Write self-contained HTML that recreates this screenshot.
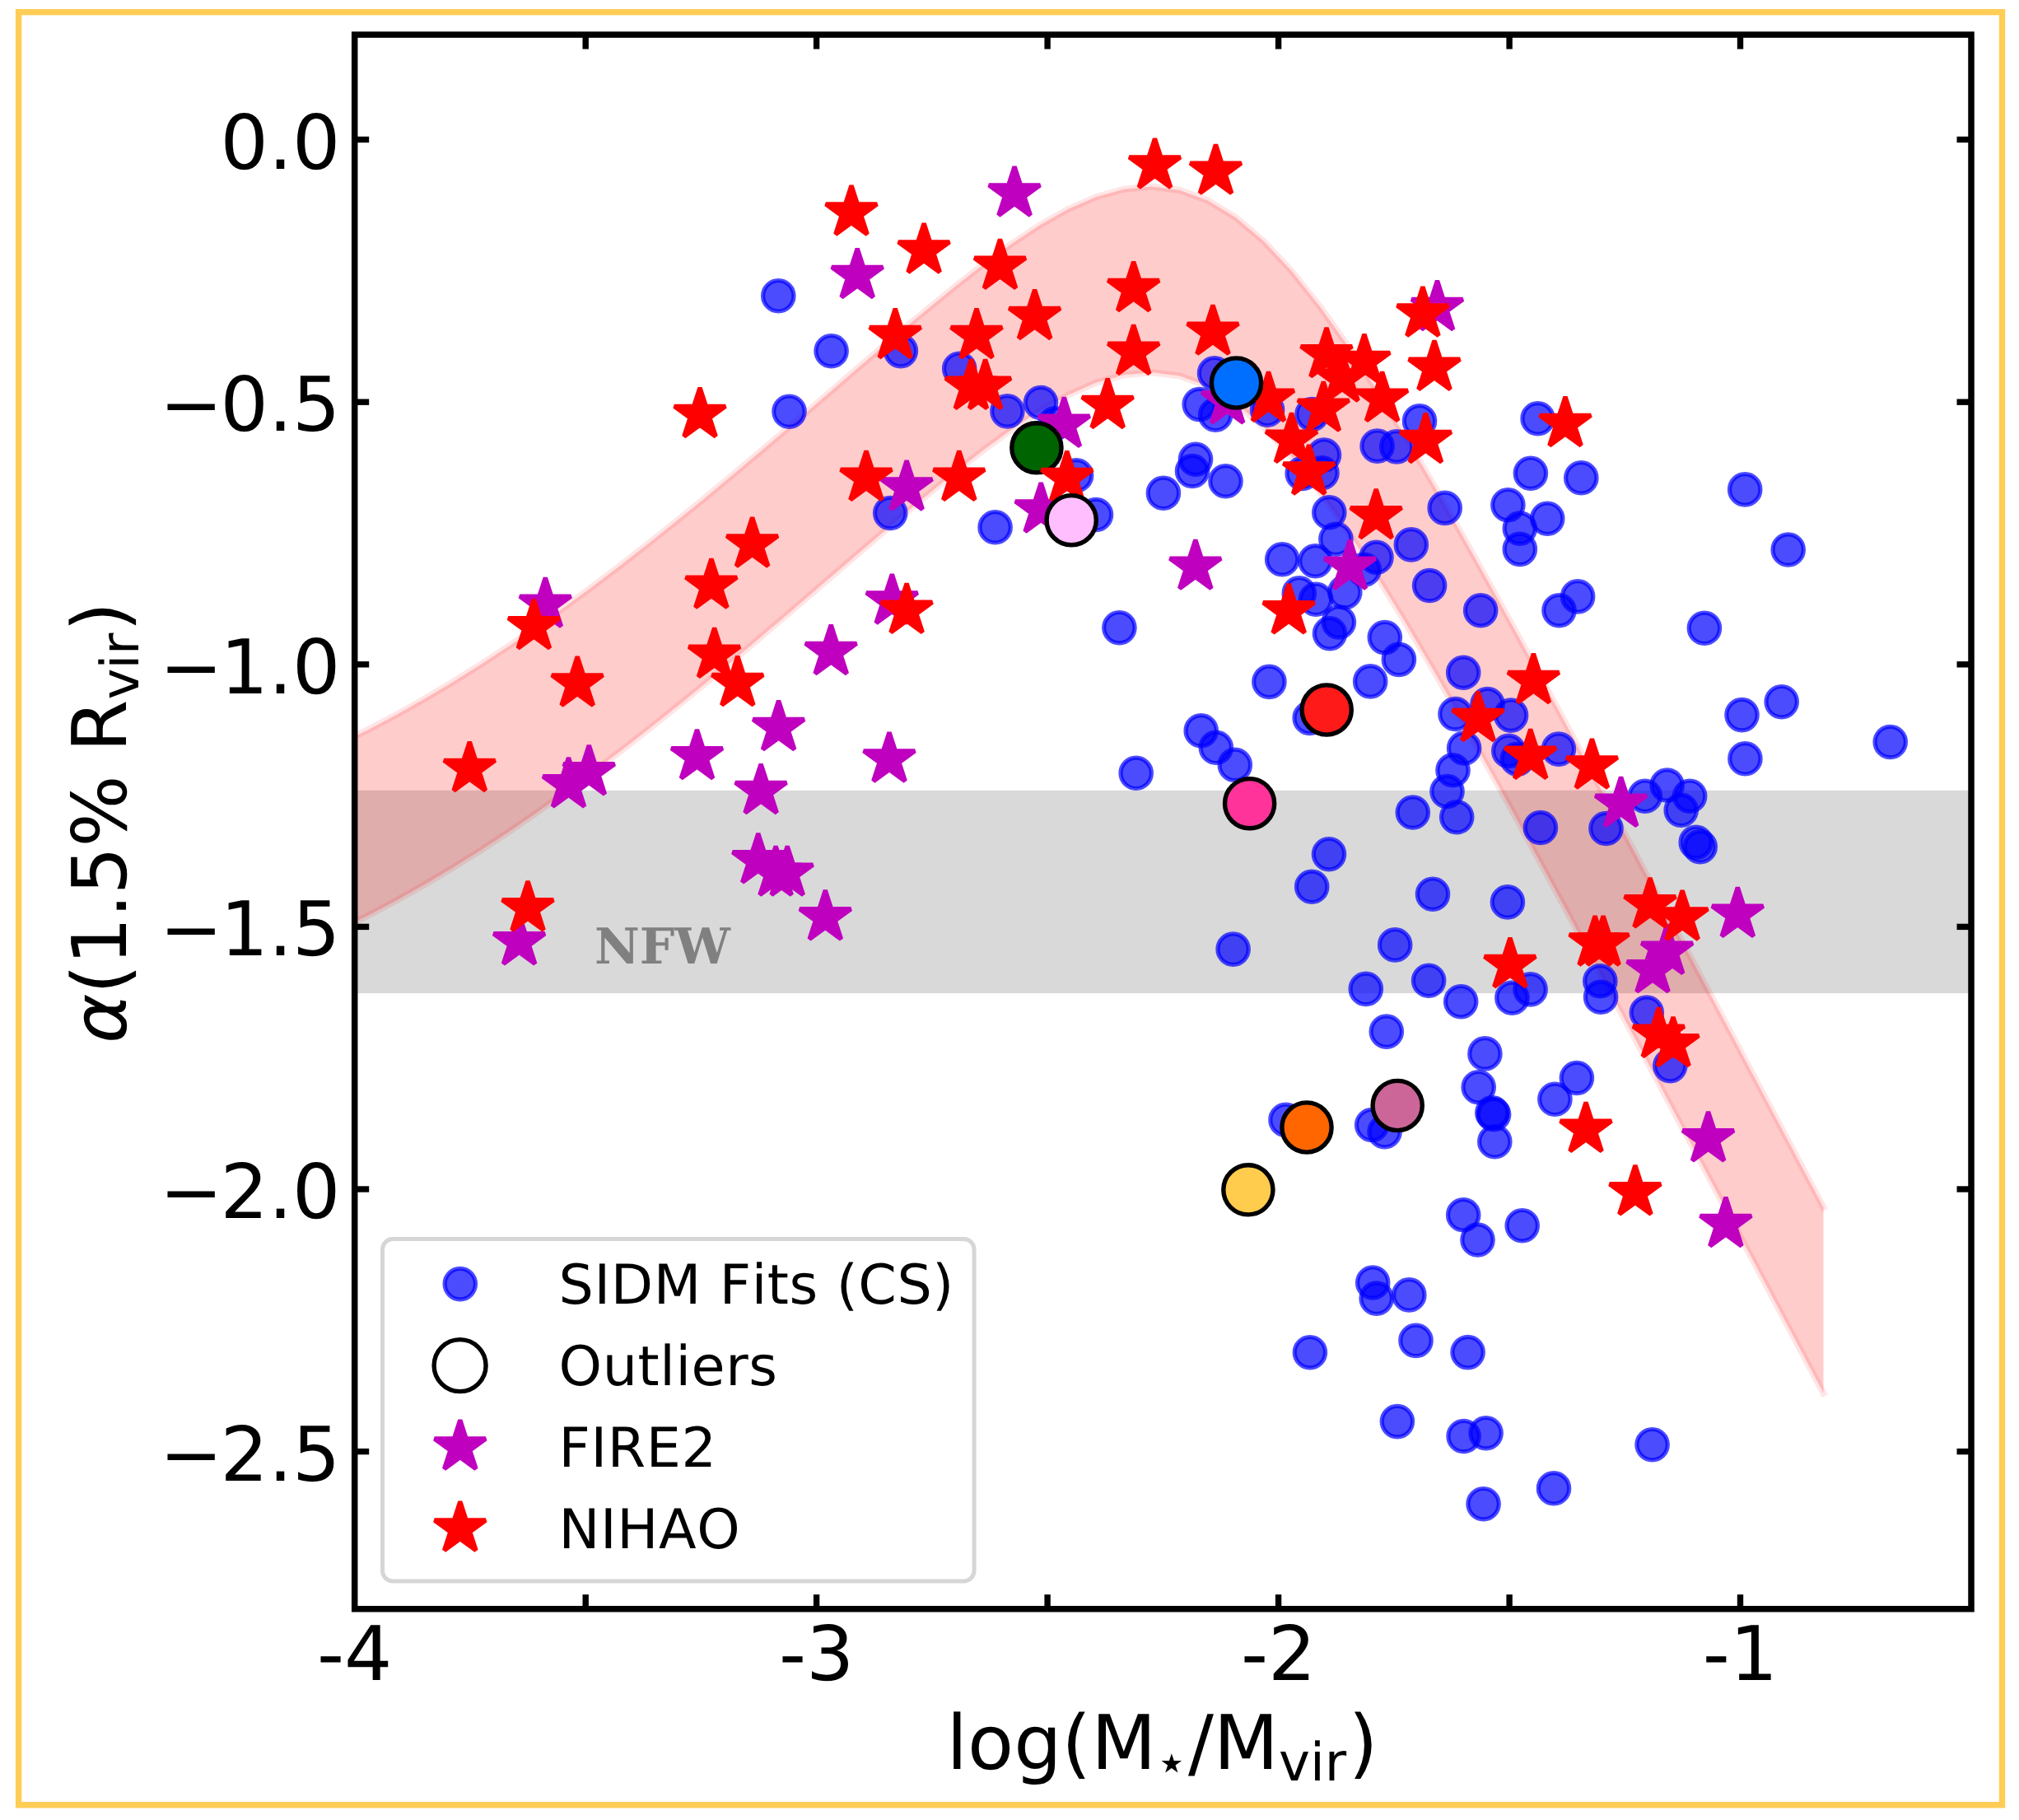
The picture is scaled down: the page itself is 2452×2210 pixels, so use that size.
<!DOCTYPE html><html><head><meta charset="utf-8"><title>alpha vs log(Mstar/Mvir)</title>
<style>html,body{margin:0;padding:0;background:#fff}svg{display:block}text{font-family:"DejaVu Sans","Liberation Sans",sans-serif;fill:#000;font-kerning:none;text-rendering:geometricPrecision}.t{font-size:91.7px}.lg{font-size:66.7px;letter-spacing:0.6px}.nfw{font-family:"DejaVu Serif","Liberation Serif",serif;font-weight:bold;fill:#808080;font-size:60px;font-kerning:normal}</style></head><body>
<svg width="2452" height="2210" viewBox="0 0 2452 2210">
<defs><path id="st" d="M0.00 -32.70 L7.34 -10.10 L31.10 -10.10 L11.88 3.86 L19.22 26.45 L0.00 12.49 L-19.22 26.45 L-11.88 3.86 L-31.10 -10.10 L-7.34 -10.10Z"/><clipPath id="cp"><rect x="430.70" y="42.10" width="1963.30" height="1911.65"/></clipPath></defs>
<rect x="0" y="0" width="2452" height="2210" fill="#fff"/>
<rect x="22.6" y="14.7" width="2408.9" height="2177" fill="none" stroke="#ffcc55" stroke-width="7.4"/>
<g clip-path="url(#cp)">
<rect x="430.7" y="959.8" width="1963.3" height="246.3" fill="#808080" fill-opacity="0.3"/>
<path d="M379.5 918.5 L413.5 902.7 L447.4 885.9 L481.4 867.9 L515.4 848.7 L549.4 828.5 L583.4 807.2 L617.4 785.0 L651.3 761.7 L685.3 737.5 L719.3 712.5 L753.3 686.7 L787.3 660.2 L821.2 633.1 L855.2 605.4 L889.2 577.2 L923.2 548.6 L957.2 519.7 L991.2 490.5 L1025.1 461.3 L1059.1 432.1 L1093.1 403.1 L1127.1 374.7 L1161.1 347.0 L1195.0 320.4 L1229.0 295.7 L1263.0 273.3 L1297.0 254.1 L1331.0 239.2 L1365.0 229.7 L1398.9 226.6 L1432.9 231.0 L1466.9 243.4 L1500.9 264.3 L1534.9 293.1 L1568.8 329.3 L1602.8 371.9 L1636.8 419.8 L1670.8 471.8 L1704.8 527.0 L1738.8 584.7 L1772.7 644.2 L1806.7 705.0 L1840.7 766.7 L1874.7 829.1 L1908.7 892.0 L1942.6 955.3 L1976.6 1018.8 L2010.6 1082.4 L2044.6 1146.2 L2078.6 1210.1 L2112.6 1274.0 L2146.5 1338.0 L2180.5 1402.0 L2214.5 1466.0 L2214.5 1691.6 L2180.5 1627.6 L2146.5 1563.6 L2112.6 1499.6 L2078.6 1435.7 L2044.6 1371.8 L2010.6 1308.0 L1976.6 1244.3 L1942.6 1180.8 L1908.7 1117.6 L1874.7 1054.7 L1840.7 992.3 L1806.7 930.6 L1772.7 869.8 L1738.8 810.3 L1704.8 752.6 L1670.8 697.4 L1636.8 645.3 L1602.8 597.5 L1568.8 554.9 L1534.9 518.7 L1500.9 489.8 L1466.9 469.0 L1432.9 456.5 L1398.9 452.2 L1365.0 455.3 L1331.0 464.8 L1297.0 479.7 L1263.0 498.8 L1229.0 521.2 L1195.0 546.0 L1161.1 572.5 L1127.1 600.2 L1093.1 628.7 L1059.1 657.7 L1025.1 686.9 L991.2 716.1 L957.2 745.2 L923.2 774.2 L889.2 802.8 L855.2 831.0 L821.2 858.7 L787.3 885.8 L753.3 912.3 L719.3 938.1 L685.3 963.1 L651.3 987.3 L617.4 1010.5 L583.4 1032.8 L549.4 1054.1 L515.4 1074.3 L481.4 1093.5 L447.4 1111.5 L413.5 1128.3 L379.5 1144.0Z" fill="#ff0000" fill-opacity="0.2"/>
<path d="M379.5 918.5 L413.5 902.7 L447.4 885.9 L481.4 867.9 L515.4 848.7 L549.4 828.5 L583.4 807.2 L617.4 785.0 L651.3 761.7 L685.3 737.5 L719.3 712.5 L753.3 686.7 L787.3 660.2 L821.2 633.1 L855.2 605.4 L889.2 577.2 L923.2 548.6 L957.2 519.7 L991.2 490.5 L1025.1 461.3 L1059.1 432.1 L1093.1 403.1 L1127.1 374.7 L1161.1 347.0 L1195.0 320.4 L1229.0 295.7 L1263.0 273.3 L1297.0 254.1 L1331.0 239.2 L1365.0 229.7 L1398.9 226.6 L1432.9 231.0 L1466.9 243.4 L1500.9 264.3 L1534.9 293.1 L1568.8 329.3 L1602.8 371.9 L1636.8 419.8 L1670.8 471.8 L1704.8 527.0 L1738.8 584.7 L1772.7 644.2 L1806.7 705.0 L1840.7 766.7 L1874.7 829.1 L1908.7 892.0 L1942.6 955.3 L1976.6 1018.8 L2010.6 1082.4 L2044.6 1146.2 L2078.6 1210.1 L2112.6 1274.0 L2146.5 1338.0 L2180.5 1402.0 L2214.5 1466.0" fill="none" stroke="#ff0000" stroke-opacity="0.1" stroke-width="8" stroke-linecap="square"/>
<path d="M379.5 1144.0 L413.5 1128.3 L447.4 1111.5 L481.4 1093.5 L515.4 1074.3 L549.4 1054.1 L583.4 1032.8 L617.4 1010.5 L651.3 987.3 L685.3 963.1 L719.3 938.1 L753.3 912.3 L787.3 885.8 L821.2 858.7 L855.2 831.0 L889.2 802.8 L923.2 774.2 L957.2 745.2 L991.2 716.1 L1025.1 686.9 L1059.1 657.7 L1093.1 628.7 L1127.1 600.2 L1161.1 572.5 L1195.0 546.0 L1229.0 521.2 L1263.0 498.8 L1297.0 479.7 L1331.0 464.8 L1365.0 455.3 L1398.9 452.2 L1432.9 456.5 L1466.9 469.0 L1500.9 489.8 L1534.9 518.7 L1568.8 554.9 L1602.8 597.5 L1636.8 645.3 L1670.8 697.4 L1704.8 752.6 L1738.8 810.3 L1772.7 869.8 L1806.7 930.6 L1840.7 992.3 L1874.7 1054.7 L1908.7 1117.6 L1942.6 1180.8 L1976.6 1244.3 L2010.6 1308.0 L2044.6 1371.8 L2078.6 1435.7 L2112.6 1499.6 L2146.5 1563.6 L2180.5 1627.6 L2214.5 1691.6" fill="none" stroke="#ff0000" stroke-opacity="0.1" stroke-width="8" stroke-linecap="square"/>
<g fill="#0000ff" fill-opacity="0.7" stroke="#0000ff" stroke-opacity="0.7" stroke-width="5.2">
<circle cx="945.3" cy="359.3" r="18.7"/>
<circle cx="1009.6" cy="426.2" r="18.7"/>
<circle cx="1093.9" cy="426.1" r="18.7"/>
<circle cx="1165.2" cy="447.7" r="18.7"/>
<circle cx="958.5" cy="499.7" r="18.7"/>
<circle cx="1223.4" cy="499.4" r="18.7"/>
<circle cx="1264.0" cy="489.0" r="18.7"/>
<circle cx="1281.4" cy="514.2" r="18.7"/>
<circle cx="1307.1" cy="577.3" r="18.7"/>
<circle cx="1412.9" cy="598.8" r="18.7"/>
<circle cx="1475.0" cy="453.2" r="18.7"/>
<circle cx="1456.7" cy="491.0" r="18.7"/>
<circle cx="1476.2" cy="503.8" r="18.7"/>
<circle cx="1539.1" cy="497.8" r="18.7"/>
<circle cx="1593.5" cy="503.0" r="18.7"/>
<circle cx="1724.0" cy="511.3" r="18.7"/>
<circle cx="1867.6" cy="508.3" r="18.7"/>
<circle cx="1452.0" cy="557.8" r="18.7"/>
<circle cx="1448.0" cy="572.0" r="18.7"/>
<circle cx="1488.5" cy="584.3" r="18.7"/>
<circle cx="1608.0" cy="552.5" r="18.7"/>
<circle cx="1581.7" cy="575.0" r="18.7"/>
<circle cx="1605.5" cy="574.3" r="18.7"/>
<circle cx="1672.6" cy="541.6" r="18.7"/>
<circle cx="1696.2" cy="542.4" r="18.7"/>
<circle cx="1858.9" cy="574.7" r="18.7"/>
<circle cx="1920.3" cy="580.3" r="18.7"/>
<circle cx="2119.2" cy="594.4" r="18.7"/>
<circle cx="2171.7" cy="667.5" r="18.7"/>
<circle cx="1916.1" cy="724.4" r="18.7"/>
<circle cx="1893.5" cy="741.2" r="18.7"/>
<circle cx="2069.9" cy="762.8" r="18.7"/>
<circle cx="2163.7" cy="852.2" r="18.7"/>
<circle cx="2115.5" cy="868.1" r="18.7"/>
<circle cx="1081.2" cy="623.0" r="18.7"/>
<circle cx="1208.6" cy="640.3" r="18.7"/>
<circle cx="1331.0" cy="625.0" r="18.7"/>
<circle cx="1359.4" cy="762.2" r="18.7"/>
<circle cx="1379.7" cy="938.8" r="18.7"/>
<circle cx="1614.3" cy="622.3" r="18.7"/>
<circle cx="1754.7" cy="616.9" r="18.7"/>
<circle cx="1831.4" cy="613.2" r="18.7"/>
<circle cx="1879.2" cy="629.7" r="18.7"/>
<circle cx="1845.8" cy="641.6" r="18.7"/>
<circle cx="1845.8" cy="666.9" r="18.7"/>
<circle cx="1622.4" cy="654.7" r="18.7"/>
<circle cx="1713.8" cy="661.4" r="18.7"/>
<circle cx="1557.2" cy="679.3" r="18.7"/>
<circle cx="1597.4" cy="681.3" r="18.7"/>
<circle cx="1671.5" cy="676.8" r="18.7"/>
<circle cx="1656.7" cy="691.7" r="18.7"/>
<circle cx="1577.8" cy="720.4" r="18.7"/>
<circle cx="1598.1" cy="727.8" r="18.7"/>
<circle cx="1633.3" cy="719.1" r="18.7"/>
<circle cx="1736.1" cy="711.0" r="18.7"/>
<circle cx="1798.2" cy="741.2" r="18.7"/>
<circle cx="1625.9" cy="755.5" r="18.7"/>
<circle cx="1615.0" cy="769.2" r="18.7"/>
<circle cx="1681.8" cy="774.1" r="18.7"/>
<circle cx="1698.9" cy="800.9" r="18.7"/>
<circle cx="1664.2" cy="827.4" r="18.7"/>
<circle cx="1541.4" cy="827.9" r="18.7"/>
<circle cx="1777.2" cy="816.7" r="18.7"/>
<circle cx="1590.7" cy="871.9" r="18.7"/>
<circle cx="1806.5" cy="855.0" r="18.7"/>
<circle cx="1767.5" cy="867.0" r="18.7"/>
<circle cx="1835.1" cy="868.6" r="18.7"/>
<circle cx="1458.7" cy="887.3" r="18.7"/>
<circle cx="1476.8" cy="907.8" r="18.7"/>
<circle cx="1499.8" cy="928.9" r="18.7"/>
<circle cx="1778.1" cy="908.5" r="18.7"/>
<circle cx="1832.3" cy="911.9" r="18.7"/>
<circle cx="1842.8" cy="921.8" r="18.7"/>
<circle cx="1892.9" cy="909.6" r="18.7"/>
<circle cx="1764.5" cy="935.3" r="18.7"/>
<circle cx="1757.5" cy="961.0" r="18.7"/>
<circle cx="1715.8" cy="986.5" r="18.7"/>
<circle cx="1769.2" cy="992.2" r="18.7"/>
<circle cx="1870.9" cy="1005.0" r="18.7"/>
<circle cx="2119.4" cy="921.3" r="18.7"/>
<circle cx="2295.7" cy="901.0" r="18.7"/>
<circle cx="1997.8" cy="966.7" r="18.7"/>
<circle cx="2024.6" cy="953.5" r="18.7"/>
<circle cx="2052.1" cy="966.7" r="18.7"/>
<circle cx="2041.7" cy="983.8" r="18.7"/>
<circle cx="1950.5" cy="1006.0" r="18.7"/>
<circle cx="2059.7" cy="1022.9" r="18.7"/>
<circle cx="2064.7" cy="1028.3" r="18.7"/>
<circle cx="1943.3" cy="1191.3" r="18.7"/>
<circle cx="1944.1" cy="1210.7" r="18.7"/>
<circle cx="1999.8" cy="1229.5" r="18.7"/>
<circle cx="1614.0" cy="1037.2" r="18.7"/>
<circle cx="1593.2" cy="1076.8" r="18.7"/>
<circle cx="1740.0" cy="1085.7" r="18.7"/>
<circle cx="1830.9" cy="1095.4" r="18.7"/>
<circle cx="1497.6" cy="1152.6" r="18.7"/>
<circle cx="1694.2" cy="1147.4" r="18.7"/>
<circle cx="1658.8" cy="1200.9" r="18.7"/>
<circle cx="1735.1" cy="1190.7" r="18.7"/>
<circle cx="1774.2" cy="1216.2" r="18.7"/>
<circle cx="1836.4" cy="1211.8" r="18.7"/>
<circle cx="1858.6" cy="1201.4" r="18.7"/>
<circle cx="1683.8" cy="1252.6" r="18.7"/>
<circle cx="1803.4" cy="1279.4" r="18.7"/>
<circle cx="1795.7" cy="1320.2" r="18.7"/>
<circle cx="1812.3" cy="1351.2" r="18.7"/>
<circle cx="1814.1" cy="1353.2" r="18.7"/>
<circle cx="1815.3" cy="1386.3" r="18.7"/>
<circle cx="1888.4" cy="1334.8" r="18.7"/>
<circle cx="1561.5" cy="1359.9" r="18.7"/>
<circle cx="1666.2" cy="1366.0" r="18.7"/>
<circle cx="1681.6" cy="1374.2" r="18.7"/>
<circle cx="2028.3" cy="1294.1" r="18.7"/>
<circle cx="1914.9" cy="1309.0" r="18.7"/>
<circle cx="1777.2" cy="1475.3" r="18.7"/>
<circle cx="1794.5" cy="1505.5" r="18.7"/>
<circle cx="1848.7" cy="1488.2" r="18.7"/>
<circle cx="1667.2" cy="1557.5" r="18.7"/>
<circle cx="1671.7" cy="1576.6" r="18.7"/>
<circle cx="1711.3" cy="1572.4" r="18.7"/>
<circle cx="1719.5" cy="1627.9" r="18.7"/>
<circle cx="1590.9" cy="1642.2" r="18.7"/>
<circle cx="1782.6" cy="1642.1" r="18.7"/>
<circle cx="1696.9" cy="1726.1" r="18.7"/>
<circle cx="1777.6" cy="1744.0" r="18.7"/>
<circle cx="1804.6" cy="1740.2" r="18.7"/>
<circle cx="2006.6" cy="1754.2" r="18.7"/>
<circle cx="1887.0" cy="1807.3" r="18.7"/>
<circle cx="1801.6" cy="1826.2" r="18.7"/>
</g>
<g fill="#bf00bf" stroke="#bf00bf" stroke-width="5.4" stroke-linejoin="bevel">
<use href="#st" x="1232.1" y="235.0"/>
<use href="#st" x="1041.2" y="334.5"/>
<use href="#st" x="1292.3" y="515.4"/>
<use href="#st" x="1101.1" y="592.0"/>
<use href="#st" x="1745.5" y="373.6"/>
<use href="#st" x="1490.6" y="486.9"/>
<use href="#st" x="662.3" y="734.2"/>
<use href="#st" x="715.3" y="937.8"/>
<use href="#st" x="690.5" y="952.9"/>
<use href="#st" x="846.5" y="918.7"/>
<use href="#st" x="924.1" y="960.5"/>
<use href="#st" x="920.8" y="1044.9"/>
<use href="#st" x="1264.2" y="619.0"/>
<use href="#st" x="1083.3" y="730.0"/>
<use href="#st" x="1009.2" y="791.5"/>
<use href="#st" x="945.6" y="883.6"/>
<use href="#st" x="1080.0" y="922.0"/>
<use href="#st" x="1451.8" y="688.2"/>
<use href="#st" x="1639.4" y="688.2"/>
<use href="#st" x="1968.6" y="976.3"/>
<use href="#st" x="2110.3" y="1110.3"/>
<use href="#st" x="2024.6" y="1155.4"/>
<use href="#st" x="2007.0" y="1177.7"/>
<use href="#st" x="630.6" y="1143.9"/>
<use href="#st" x="942.1" y="1060.2"/>
<use href="#st" x="956.2" y="1060.2"/>
<use href="#st" x="1002.3" y="1113.9"/>
<use href="#st" x="2074.6" y="1382.8"/>
<use href="#st" x="2095.9" y="1486.5"/>
</g>
<g stroke="#000" stroke-width="5.4">
<circle cx="1258.9" cy="543.8" r="30.1" fill="#006400"/>
</g>
<g fill="#ff0000" stroke="#ff0000" stroke-width="5.4" stroke-linejoin="bevel">
<use href="#st" x="1034.0" y="258.0"/>
<use href="#st" x="1122.1" y="304.0"/>
<use href="#st" x="1214.5" y="323.3"/>
<use href="#st" x="1256.6" y="384.5"/>
<use href="#st" x="1087.2" y="407.6"/>
<use href="#st" x="1186.0" y="407.6"/>
<use href="#st" x="1179.4" y="469.3"/>
<use href="#st" x="1196.6" y="469.3"/>
<use href="#st" x="1376.7" y="350.6"/>
<use href="#st" x="1376.7" y="427.4"/>
<use href="#st" x="1345.2" y="492.5"/>
<use href="#st" x="1402.5" y="201.0"/>
<use href="#st" x="1052.0" y="580.3"/>
<use href="#st" x="1164.8" y="580.3"/>
<use href="#st" x="1295.8" y="580.6"/>
<use href="#st" x="1476.5" y="208.2"/>
<use href="#st" x="1473.0" y="403.2"/>
<use href="#st" x="1611.0" y="430.7"/>
<use href="#st" x="1656.9" y="438.5"/>
<use href="#st" x="1727.9" y="381.1"/>
<use href="#st" x="1742.0" y="446.4"/>
<use href="#st" x="1540.5" y="484.4"/>
<use href="#st" x="1678.6" y="484.4"/>
<use href="#st" x="1607.3" y="496.2"/>
<use href="#st" x="1630.0" y="460.0"/>
<use href="#st" x="1568.5" y="534.3"/>
<use href="#st" x="1731.4" y="534.6"/>
<use href="#st" x="1589.7" y="573.0"/>
<use href="#st" x="1901.0" y="514.5"/>
<use href="#st" x="1671.2" y="626.7"/>
<use href="#st" x="648.4" y="760.7"/>
<use href="#st" x="701.2" y="830.0"/>
<use href="#st" x="570.3" y="933.5"/>
<use href="#st" x="863.9" y="711.2"/>
<use href="#st" x="867.6" y="795.4"/>
<use href="#st" x="895.8" y="829.6"/>
<use href="#st" x="641.0" y="1102.8"/>
<use href="#st" x="913.6" y="661.0"/>
<use href="#st" x="1101.1" y="741.4"/>
<use href="#st" x="850.0" y="503.5"/>
<use href="#st" x="1565.2" y="741.9"/>
<use href="#st" x="1862.4" y="826.6"/>
<use href="#st" x="1795.0" y="872.5"/>
<use href="#st" x="1858.7" y="918.4"/>
<use href="#st" x="1933.4" y="930.0"/>
<use href="#st" x="2004.0" y="1098.9"/>
<use href="#st" x="2043.1" y="1114.0"/>
<use href="#st" x="1937.1" y="1145.0"/>
<use href="#st" x="1947.1" y="1145.0"/>
<use href="#st" x="2014.4" y="1256.3"/>
<use href="#st" x="2032.0" y="1267.7"/>
<use href="#st" x="1833.9" y="1171.6"/>
<use href="#st" x="1926.0" y="1371.4"/>
<use href="#st" x="1985.9" y="1447.9"/>
</g>
<g stroke="#000" stroke-width="5.4">
<circle cx="1501.5" cy="465.0" r="30.1" fill="#006fff"/>
<circle cx="1301.2" cy="631.7" r="30.1" fill="#ffbfff"/>
<circle cx="1611.2" cy="862.0" r="30.1" fill="#ff1a1a"/>
<circle cx="1517.6" cy="975.7" r="30.1" fill="#ff3399"/>
<circle cx="1697.2" cy="1342.5" r="30.1" fill="#cc6699"/>
<circle cx="1587.0" cy="1369.0" r="30.1" fill="#ff6600"/>
<circle cx="1515.9" cy="1444.8" r="30.1" fill="#ffcc4d"/>
</g>
<text class="nfw" x="722" y="1170.2">NFW</text>
</g>
<rect x="464.5" y="1504.5" width="718.6" height="415.5" rx="12.7" ry="12.7" fill="#fff" fill-opacity="0.8" stroke="#cccccc" stroke-opacity="0.8" stroke-width="5"/>
<circle cx="558.8" cy="1559.1" r="18.7" fill="#0000ff" fill-opacity="0.7" stroke="#0000ff" stroke-opacity="0.7" stroke-width="5.2"/>
<circle cx="558.6" cy="1658.1" r="31.5" fill="#fff" stroke="#000" stroke-width="5.4"/>
<use href="#st" x="558.8" y="1757.1" fill="#bf00bf" stroke="#bf00bf" stroke-width="5.4" stroke-linejoin="bevel"/>
<use href="#st" x="558.8" y="1856.1" fill="#ff0000" stroke="#ff0000" stroke-width="5.4" stroke-linejoin="bevel"/>
<text class="lg" x="678.6" y="1582.9">SIDM Fits (CS)</text>
<text class="lg" x="678.6" y="1681.9">Outliers</text>
<text class="lg" x="678.6" y="1780.9">FIRE2</text>
<text class="lg" x="678.6" y="1879.9">NIHAO</text>
<rect x="430.70" y="42.10" width="1963.30" height="1911.65" fill="none" stroke="#000" stroke-width="7.5"/>
<g stroke="#000" stroke-width="7.4">
<line x1="711.2" y1="1953.8" x2="711.2" y2="1936.2"/>
<line x1="711.2" y1="42.1" x2="711.2" y2="59.6"/>
<line x1="991.6" y1="1953.8" x2="991.6" y2="1936.2"/>
<line x1="991.6" y1="42.1" x2="991.6" y2="59.6"/>
<line x1="1272.1" y1="1953.8" x2="1272.1" y2="1936.2"/>
<line x1="1272.1" y1="42.1" x2="1272.1" y2="59.6"/>
<line x1="1552.6" y1="1953.8" x2="1552.6" y2="1936.2"/>
<line x1="1552.6" y1="42.1" x2="1552.6" y2="59.6"/>
<line x1="1833.1" y1="1953.8" x2="1833.1" y2="1936.2"/>
<line x1="1833.1" y1="42.1" x2="1833.1" y2="59.6"/>
<line x1="2113.5" y1="1953.8" x2="2113.5" y2="1936.2"/>
<line x1="2113.5" y1="42.1" x2="2113.5" y2="59.6"/>
<line x1="430.7" y1="169.5" x2="448.2" y2="169.5"/>
<line x1="2394.0" y1="169.5" x2="2376.5" y2="169.5"/>
<line x1="430.7" y1="488.2" x2="448.2" y2="488.2"/>
<line x1="2394.0" y1="488.2" x2="2376.5" y2="488.2"/>
<line x1="430.7" y1="806.8" x2="448.2" y2="806.8"/>
<line x1="2394.0" y1="806.8" x2="2376.5" y2="806.8"/>
<line x1="430.7" y1="1125.4" x2="448.2" y2="1125.4"/>
<line x1="2394.0" y1="1125.4" x2="2376.5" y2="1125.4"/>
<line x1="430.7" y1="1444.0" x2="448.2" y2="1444.0"/>
<line x1="2394.0" y1="1444.0" x2="2376.5" y2="1444.0"/>
<line x1="430.7" y1="1762.6" x2="448.2" y2="1762.6"/>
<line x1="2394.0" y1="1762.6" x2="2376.5" y2="1762.6"/>
</g>
<text class="t" text-anchor="middle" x="430.7" y="2039.5">-4</text>
<text class="t" text-anchor="middle" x="991.6" y="2039.5">-3</text>
<text class="t" text-anchor="middle" x="1552.6" y="2039.5">-2</text>
<text class="t" text-anchor="middle" x="2113.5" y="2039.5">-1</text>
<text class="t" text-anchor="end" x="413.4" y="204.5">0.0</text>
<text class="t" text-anchor="end" x="413.4" y="523.2">−<tspan dx="-3">0.5</tspan></text>
<text class="t" text-anchor="end" x="413.4" y="841.8">−<tspan dx="-3">1.0</tspan></text>
<text class="t" text-anchor="end" x="413.4" y="1160.4">−<tspan dx="-3">1.5</tspan></text>
<text class="t" text-anchor="end" x="413.4" y="1479.0">−<tspan dx="-3">2.0</tspan></text>
<text class="t" text-anchor="end" x="413.4" y="1797.6">−<tspan dx="-3">2.5</tspan></text>
<text class="t" x="1149.6" y="2148"><tspan>log(M</tspan><tspan font-size="64.2px" dy="14" dx="-1.5">⋆</tspan><tspan dy="-14">/M</tspan><tspan font-size="64.2px" dy="14">vir</tspan><tspan dy="-14" dx="2.5">)</tspan></text>
<text class="t" transform="translate(152.8 1267) rotate(-90)"><tspan font-style="oblique">α</tspan><tspan dx="-0.5 -0.5 -1 -1 -0.5 0 -1">(1.5% R</tspan><tspan font-size="64.2px" dy="15.2" dx="0 -1 -0.5">vir</tspan><tspan dy="-15.2" dx="2">)</tspan></text>
</svg></body></html>
